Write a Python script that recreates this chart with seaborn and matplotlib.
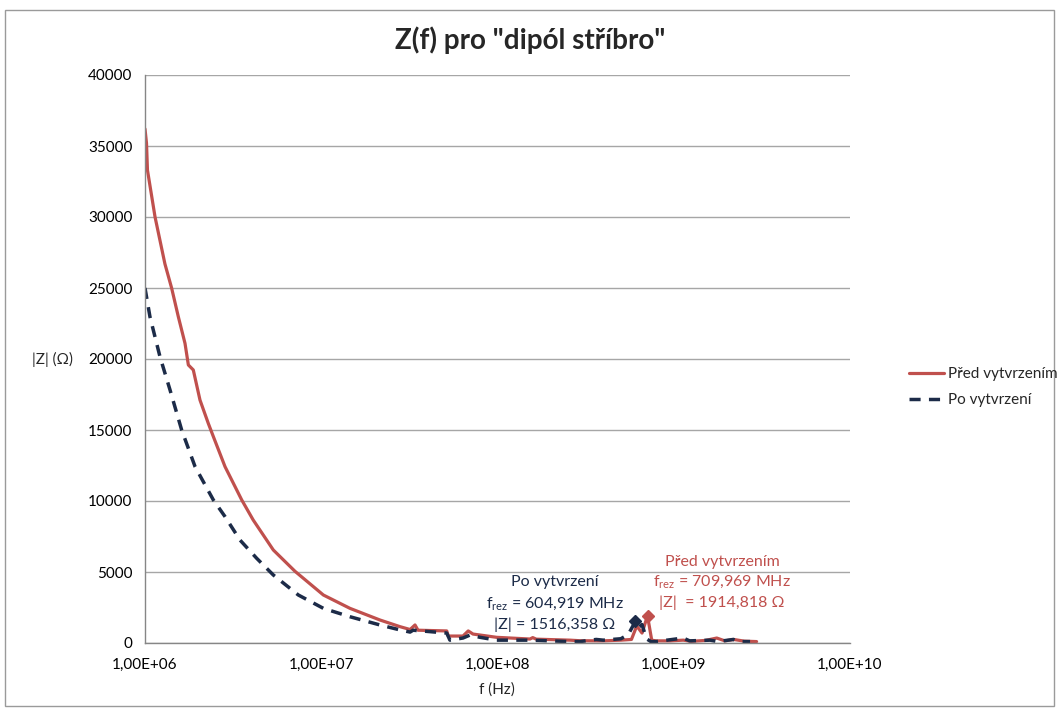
import numpy as np
import pandas as pd
import matplotlib
matplotlib.use("Agg")
import matplotlib.pyplot as plt
from matplotlib.ticker import FuncFormatter, FixedLocator
from matplotlib.patches import Rectangle
import seaborn as sns

# ---- data ----
# log10 of frequency (Hz) and |Z| (Ohm)
logf_pred = [6.000, 6.0085, 6.014, 6.057, 6.113, 6.151, 6.189, 6.227, 6.246, 6.274,
             6.312, 6.359, 6.388, 6.454, 6.549, 6.614, 6.728, 6.851, 7.012, 7.163,
             7.333, 7.447, 7.504, 7.532, 7.549, 7.712, 7.721, 7.804, 7.834, 7.861,
             7.995, 8.184, 8.200, 8.220, 8.411, 8.468, 8.600, 8.700, 8.760, 8.790,
             8.820, 8.851, 8.875, 8.900, 8.979, 9.054, 9.100, 9.180, 9.244, 9.290,
             9.340, 9.400, 9.470]
z_pred = [36200, 35200, 33300, 30000, 26700, 25000, 22980, 21100, 19580, 19230,
          17110, 15470, 14530, 12420, 10070, 8660, 6550, 5050, 3380, 2440,
          1620, 1150, 950, 1270, 900, 850, 490, 490, 850, 630,
          400, 280, 380, 270, 200, 160, 150, 200, 250, 1200,
          700, 1915, 200, 150, 150, 200, 120, 180, 350, 150,
          250, 130, 100]

logf_po = [6.000, 6.028, 6.085, 6.142, 6.208, 6.284, 6.388, 6.454, 6.539, 6.634,
           6.728, 6.870, 7.012, 7.163, 7.333, 7.447, 7.504, 7.521, 7.712, 7.730,
           7.804, 7.844, 7.901, 7.995, 8.184, 8.411, 8.468, 8.560, 8.600, 8.700,
           8.742, 8.782, 8.800, 8.820, 8.845, 8.870, 8.900, 9.054, 9.090, 9.206,
           9.250, 9.338, 9.370, 9.433]
z_po = [25000, 22980, 20160, 17820, 15000, 12420, 10070, 8900, 7250, 5960,
        4790, 3380, 2440, 1850, 1270, 920, 770, 900, 700, 200,
        350, 560, 400, 200, 200, 100, 100, 250, 200, 300,
        600, 1516, 1100, 1300, 300, 100, 100, 350, 150, 200,
        100, 250, 100, 100]

series_names = ["Před vytvrzením", "Po vytvrzení"]
peak_pred = (709.969e6, 1914.818)
peak_po = (604.919e6, 1516.358)
x_ticks = [1e6, 1e7, 1e8, 1e9, 1e10]
y_ticks = [0, 5000, 10000, 15000, 20000, 25000, 30000, 35000, 40000]

df_pred = pd.DataFrame({"f": np.power(10.0, logf_pred), "Z": z_pred})
df_po = pd.DataFrame({"f": np.power(10.0, logf_po), "Z": z_po})

# ---- style ----
sns.set_style("white")
plt.rcParams["font.family"] = ["Lato", "DejaVu Sans"]
plt.rcParams["mathtext.fontset"] = "custom"
plt.rcParams["mathtext.rm"] = "Lato"
plt.rcParams["mathtext.it"] = "Lato"

RED = "#C0504D"
NAVY = "#1C2B48"
GRID = "#A6A6A6"
AXC = "#868686"

W, H = 1059, 711
fig = plt.figure(figsize=(W / 100, H / 100), dpi=100)
ax = fig.add_axes([145 / W, 1 - 643 / H, (850 - 145) / W, (643 - 75) / H])

sns.lineplot(data=df_pred, x="f", y="Z", ax=ax, color=RED, lw=2.3,
             sort=False, label=series_names[0], estimator=None)
sns.lineplot(data=df_po, x="f", y="Z", ax=ax, color=NAVY, lw=2.5,
             sort=False, label=series_names[1], estimator=None,
             linestyle=(0, (3.2, 2.4)))
ax.plot([peak_pred[0]], [peak_pred[1]], marker="D", ms=6, color=RED, ls="none")
ax.plot([peak_po[0]], [peak_po[1]], marker="D", ms=6, color=NAVY, ls="none")

ax.set_xscale("log")
ax.set_xlim(x_ticks[0], x_ticks[-1])
ax.set_ylim(0, 40000)
ax.xaxis.set_major_locator(FixedLocator(x_ticks))
ax.xaxis.set_minor_locator(FixedLocator([]))
ax.yaxis.set_major_locator(FixedLocator(y_ticks))


def sci_fmt(v, pos):
    e = int(round(np.log10(v)))
    return "1,00E+%02d" % e


ax.xaxis.set_major_formatter(FuncFormatter(sci_fmt))
ax.yaxis.set_major_formatter(FuncFormatter(lambda v, p: "%d" % v))
ax.grid(axis="y", color=GRID, lw=1)
ax.set_axisbelow(True)
for s in ["top", "right"]:
    ax.spines[s].set_visible(False)
for s in ["left", "bottom"]:
    ax.spines[s].set_color(AXC)
    ax.spines[s].set_linewidth(1)
ax.tick_params(axis="both", which="major", direction="out", length=5,
               color=AXC, labelsize=11, labelcolor="#000000", pad=4)
ax.tick_params(axis="x", pad=6)

ax.set_xlabel("")
ax.set_ylabel("")
fig.text(497 / W, 1 - 690 / H, "f (Hz)", ha="center", va="center", fontsize=11)
fig.text(52 / W, 1 - 359 / H, "|Z| (Ω)", ha="center", va="center", fontsize=11)
fig.text(530 / W, 1 - 40 / H, 'Z(f) pro "dipól stříbro"', ha="center", va="center",
         fontsize=20, fontweight="bold")

# legend
ax.get_legend().remove()
fig.legend(handles=ax.get_lines()[:2], labels=series_names, loc="center left",
           bbox_to_anchor=(895 / W, 1 - 387 / H), frameon=False, fontsize=11,
           handlelength=2.3, handletextpad=0.3, labelspacing=0.8)

# annotations
fs = 11.5
fig.text(555 / W, 1 - 582 / H, "Po vytvrzení", ha="center", va="center",
         fontsize=fs, color=NAVY)
fig.text(555 / W, 1 - 604 / H, r"f$_{\rm rez}$ = 604,919 MHz", ha="center",
         va="center", fontsize=fs, color=NAVY)
fig.text(555 / W, 1 - 625 / H, "|Z| = 1516,358 Ω", ha="center", va="center",
         fontsize=fs, color=NAVY)
fig.text(722 / W, 1 - 562 / H, "Před vytvrzením", ha="center", va="center",
         fontsize=fs, color=RED)
fig.text(722 / W, 1 - 582 / H, r"f$_{\rm rez}$ = 709,969 MHz", ha="center",
         va="center", fontsize=fs, color=RED)
fig.text(722 / W, 1 - 603 / H, "|Z|  = 1914,818 Ω", ha="center", va="center",
         fontsize=fs, color=RED)

# outer chart border
fig.patches.append(Rectangle((5 / W, 1 - 706 / H), 1049 / W, 696 / H,
                             transform=fig.transFigure, fill=False,
                             edgecolor="#9A9A9A", lw=1))

fig.savefig("out.png", dpi=100)
